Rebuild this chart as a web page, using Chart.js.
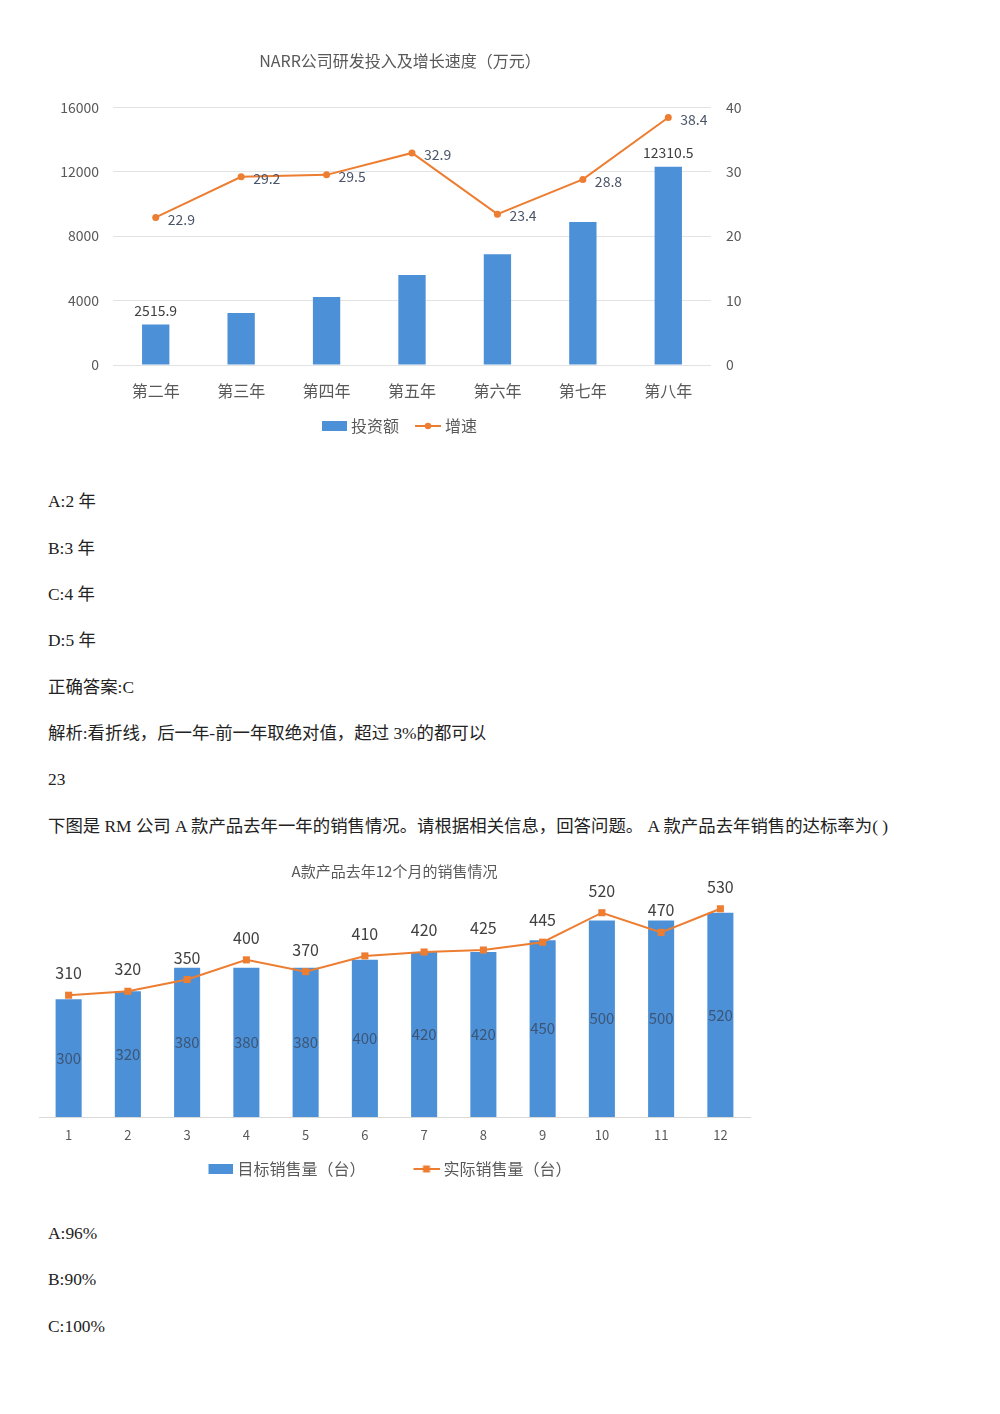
<!DOCTYPE html>
<html>
<head>
<meta charset="utf-8">
<script src="https://cdn.jsdelivr.net/npm/chart.js@4.4.1/dist/chart.umd.min.js"></script>
<style>
  body { margin: 0; background: #fff; width: 1000px; height: 1414px; position: relative; overflow: hidden;
         font-family: "Liberation Serif", "Noto Sans CJK SC", serif; color: #222; }
  .t { position: absolute; left: 48px; font-size: 17.4px; line-height: 24px; white-space: nowrap; }
  #box1 { position: absolute; left: 40px; top: 40px; width: 720px; height: 410px; }
  #box2 { position: absolute; left: 39px; top: 855px; width: 730px; height: 332px; }
</style>
</head>
<body>
<div id="box1"><canvas id="chart1"></canvas></div>

<div class="t" style="top:489px">A:2 年</div>
<div class="t" style="top:536px">B:3 年</div>
<div class="t" style="top:582px">C:4 年</div>
<div class="t" style="top:628px">D:5 年</div>
<div class="t" style="top:675px">正确答案:C</div>
<div class="t" style="top:721px">解析:看折线，后一年-前一年取绝对值，超过 3%的都可以</div>
<div class="t" style="top:767px">23</div>
<div class="t" style="top:814px">下图是 RM 公司 A 款产品去年一年的销售情况。请根据相关信息，回答问题。 A 款产品去年销售的达标率为( )</div>

<div id="box2"><canvas id="chart2"></canvas></div>

<div class="t" style="top:1221px">A:96%</div>
<div class="t" style="top:1267px">B:90%</div>
<div class="t" style="top:1314px">C:100%</div>

<script>
// chart 1: R&D spend and growth
const years = ['第二年', '第三年', '第四年', '第五年', '第六年', '第七年', '第八年'];
const investment = [2515.9, 3225, 4220, 5580, 6880, 8870, 12310.5];
const growth = [22.9, 29.2, 29.5, 32.9, 23.4, 28.8, 38.4];
const leftTicks = [0, 4000, 8000, 12000, 16000];
const rightTicks = [0, 10, 20, 30, 40];
const labelledBars = [0, 6];

// chart 2: monthly sales
const months = ['1', '2', '3', '4', '5', '6', '7', '8', '9', '10', '11', '12'];
const targetSales = [300, 320, 380, 380, 380, 400, 420, 420, 450, 500, 500, 520];
const actualSales = [310, 320, 350, 400, 370, 410, 420, 425, 445, 520, 470, 530];

const BLUE = '#4c91d7';
const ORANGE = '#ed7d31';
const GREY = '#595959';
const FONT = '"Noto Sans CJK SC", sans-serif';

Chart.defaults.font.family = FONT;
Chart.defaults.color = GREY;

// small canvas used as legend symbol
function legendIcon(kind, color) {
    const c = document.createElement('canvas');
    c.width = 36;
    c.height = 14;
    const g = c.getContext('2d');
    g.fillStyle = color;
    g.strokeStyle = color;
    if (kind === 'bar') {
        g.fillRect(11, 2, 25, 10);
    } else {
        g.lineWidth = 2;
        g.beginPath();
        g.moveTo(10, 7);
        g.lineTo(36, 7);
        g.stroke();
        if (kind === 'dot') {
            g.beginPath();
            g.arc(23, 7, 3.2, 0, Math.PI * 2);
            g.fill();
        } else {
            g.fillRect(19.5, 3.5, 7, 7);
        }
    }
    return c;
}

// gap goes after every item but the last, tail after the last one
function makeLegend(fontSize, gap, tail) {
    return {
        position: 'bottom',
        labels: {
            usePointStyle: true,
            pointStyleWidth: 28,
            padding: 10,
            color: GREY,
            font: { size: fontSize },
            generateLabels(chart) {
                const sets = chart.data.datasets;
                return sets.map((ds, i) => ({
                    text: ds.label + (i < sets.length - 1 ? gap : tail),
                    pointStyle: ds.legendIcon,
                    fillStyle: 'transparent',
                    strokeStyle: 'transparent',
                    lineWidth: 0,
                    hidden: false,
                    datasetIndex: i,
                    fontColor: GREY
                }));
            }
        }
    };
}

// value labels drawn next to bars / points
const valueLabels = {
    id: 'valueLabels',
    afterDatasetsDraw(chart) {
        const ctx = chart.ctx;
        chart.data.datasets.forEach((ds, i) => {
            const lab = ds.valueLabel;
            if (!lab) return;
            const meta = chart.getDatasetMeta(i);
            ctx.save();
            ctx.font = lab.size + 'px ' + FONT;
            ctx.fillStyle = lab.color;
            ctx.textBaseline = 'middle';
            meta.data.forEach((el, j) => {
                if (lab.only && !lab.only.includes(j)) return;
                let x = el.x, y = el.y;
                if (lab.pos === 'right') {
                    ctx.textAlign = 'left';
                    x += lab.dx;
                    y += lab.dy;
                } else if (lab.pos === 'above') {
                    ctx.textAlign = 'center';
                    y -= lab.dy;
                } else {
                    ctx.textAlign = 'center';
                    y = (el.y + el.base) / 2;
                }
                ctx.fillText(String(ds.data[j]), x, y);
            });
            ctx.restore();
        });
    }
};

const plainNumber = v => String(v);

new Chart(document.getElementById('chart1'), {
    data: {
        labels: years,
        datasets: [
            {
                type: 'bar',
                label: '投资额',
                data: investment,
                yAxisID: 'y',
                backgroundColor: BLUE,
                barPercentage: 0.32,
                categoryPercentage: 1,
                order: 1,
                legendIcon: legendIcon('bar', BLUE),
                valueLabel: { pos: 'above', dy: 14, size: 14, color: '#404040', only: labelledBars }
            },
            {
                type: 'line',
                label: '增速',
                data: growth,
                yAxisID: 'y1',
                borderColor: ORANGE,
                backgroundColor: ORANGE,
                borderWidth: 2,
                pointRadius: 3.5,
                pointBorderWidth: 0,
                tension: 0,
                order: 0,
                legendIcon: legendIcon('dot', ORANGE),
                valueLabel: { pos: 'right', dx: 12, dy: 2, size: 14, color: '#4a5568' }
            }
        ]
    },
    options: {
        responsive: true,
        maintainAspectRatio: false,
        animation: false,
        layout: { autoPadding: false, padding: { left: 0, right: 0, top: 0, bottom: 6 } },
        plugins: {
            title: {
                display: true,
                text: 'NARR公司研发投入及增长速度（万元）',
                color: GREY,
                font: { size: 16, weight: 'normal' },
                padding: { top: 11, bottom: 37 }
            },
            legend: makeLegend(16, '', '\u2002'),
            tooltip: { enabled: false }
        },
        scales: {
            x: {
                grid: { display: false, drawTicks: false },
                border: { display: false },
                ticks: { font: { size: 16 }, color: GREY, padding: 16 },
                afterFit(scale) { scale.height = 43; }
            },
            y: {
                position: 'left',
                min: leftTicks[0],
                max: leftTicks[leftTicks.length - 1],
                ticks: { stepSize: leftTicks[1] - leftTicks[0], font: { size: 14 }, color: GREY, padding: 14, callback: plainNumber },
                grid: { color: '#e3e3e3', drawTicks: false },
                border: { display: false },
                afterFit(scale) { scale.width = 73; }
            },
            y1: {
                position: 'right',
                min: rightTicks[0],
                max: rightTicks[rightTicks.length - 1],
                ticks: { stepSize: rightTicks[1] - rightTicks[0], font: { size: 14 }, color: GREY, padding: 15, callback: plainNumber },
                grid: { display: false, drawTicks: false },
                border: { display: false },
                afterFit(scale) { scale.width = 49; }
            }
        }
    },
    plugins: [valueLabels]
});

new Chart(document.getElementById('chart2'), {
    data: {
        labels: months,
        datasets: [
            {
                type: 'bar',
                label: '目标销售量（台）',
                data: targetSales,
                backgroundColor: BLUE,
                barPercentage: 0.44,
                categoryPercentage: 1,
                order: 1,
                legendIcon: legendIcon('bar', BLUE),
                valueLabel: { pos: 'center', size: 15, color: 'rgba(55,70,95,0.8)' }
            },
            {
                type: 'line',
                label: '实际销售量（台）',
                data: actualSales,
                borderColor: ORANGE,
                backgroundColor: ORANGE,
                borderWidth: 2,
                pointStyle: 'rect',
                pointRadius: 5,
                pointBorderWidth: 0,
                tension: 0,
                order: 0,
                legendIcon: legendIcon('square', ORANGE),
                valueLabel: { pos: 'above', dy: 22, size: 16, color: '#404040' }
            }
        ]
    },
    options: {
        responsive: true,
        maintainAspectRatio: false,
        animation: false,
        layout: { autoPadding: false, padding: { left: 0, right: 19, top: 0, bottom: 0 } },
        plugins: {
            title: {
                display: true,
                text: 'A款产品去年12个月的销售情况',
                color: GREY,
                font: { size: 15, weight: 'normal' },
                padding: { top: 7, bottom: 17 }
            },
            legend: makeLegend(16, '\u3000\u3000\u2002', '\u3000\u2002'),
            tooltip: { enabled: false }
        },
        scales: {
            x: {
                grid: { display: false, drawTicks: false },
                border: { display: true, color: '#d9d9d9', width: 1 },
                ticks: { font: { size: 13 }, color: GREY, padding: 10 },
                afterFit(scale) { scale.height = 34; }
            },
            y: {
                display: false,
                min: 0,
                max: 560
            }
        }
    },
    plugins: [valueLabels]
});
</script>
</body>
</html>
